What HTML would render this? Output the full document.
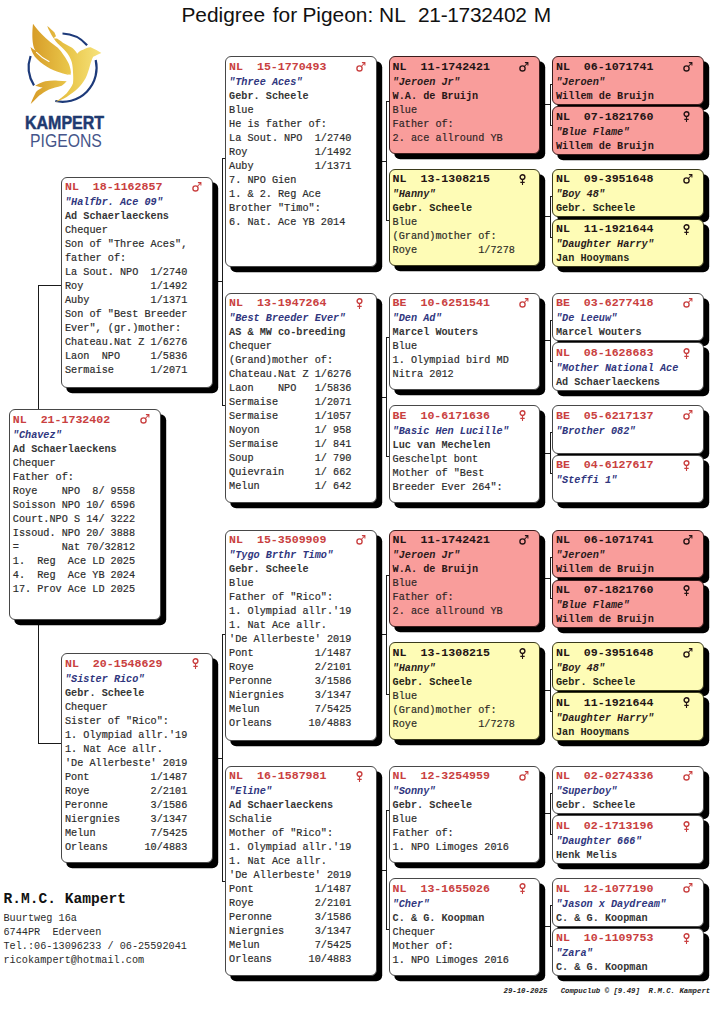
<!DOCTYPE html><html><head><meta charset="utf-8"><style>
html,body{margin:0;padding:0;background:#fff;}
body{width:713px;height:1024px;position:relative;overflow:hidden;font-family:"Liberation Mono",monospace;}
.b{position:absolute;box-sizing:border-box;width:151.5px;border:1px solid #474747;border-radius:6px;box-shadow:5.2px 5.2px 0 #000;background:#fff;padding:1.5px 0 0 2.8px;overflow:hidden;}
.b.p{background:#f99d9b;border-color:#3a1c1c;}
.b.y{background:#fefcb6;border-color:#3a3a1c;}
.hd{height:17px;line-height:16px;font-size:11.6px;font-weight:bold;color:#c94040;white-space:pre;position:relative;}
.p .hd,.y .hd{color:#241414;}
.g{position:absolute;right:9px;top:1.8px;}
.nm{height:14px;line-height:14px;font-size:10.2px;font-weight:bold;font-style:italic;color:#30367e;white-space:pre;}
.p .nm,.y .nm{color:#2a1a1a;}
.p .br,.p .ln{color:#2a1616;}
.y .br,.y .ln{color:#262616;}
.br{height:14px;line-height:14px;font-size:10.2px;font-weight:bold;color:#363636;white-space:pre;}
.ln{height:14px;line-height:14px;font-size:10.2px;color:#1c1c1c;-webkit-text-stroke:0.2px #444;white-space:pre;}
.h,.v{position:absolute;background:#1a1a1a;}
.tt{position:absolute;top:3px;height:24px;line-height:24px;font-family:"Liberation Sans",sans-serif;font-size:20.9px;color:#111;white-space:pre}
.h{height:1px;} .v{width:1px;}
</style></head><body>

<div class="v" style="left:37.5px;top:284.8px;height:459.1px"></div>
<div class="h" style="left:38.0px;top:284.8px;width:23.7px"></div>
<div class="h" style="left:38.0px;top:742.9px;width:23.7px"></div>
<div class="v" style="left:221.9px;top:157.9px;height:248.1px"></div>
<div class="h" style="left:212.0px;top:281.4px;width:10.9px"></div>
<div class="h" style="left:222.4px;top:157.9px;width:3.4px"></div>
<div class="h" style="left:222.4px;top:405.0px;width:3.4px"></div>
<div class="v" style="left:221.9px;top:634.2px;height:247.9px"></div>
<div class="h" style="left:212.0px;top:757.7px;width:10.9px"></div>
<div class="h" style="left:222.4px;top:634.2px;width:3.4px"></div>
<div class="h" style="left:222.4px;top:881.1px;width:3.4px"></div>
<div class="v" style="left:386.0px;top:101.1px;height:120.0px"></div>
<div class="h" style="left:376.0px;top:160.6px;width:11.0px"></div>
<div class="h" style="left:386.5px;top:101.1px;width:2.8px"></div>
<div class="h" style="left:386.5px;top:220.1px;width:2.8px"></div>
<div class="v" style="left:386.0px;top:337.4px;height:120.0px"></div>
<div class="h" style="left:376.0px;top:396.9px;width:11.0px"></div>
<div class="h" style="left:386.5px;top:337.4px;width:2.8px"></div>
<div class="h" style="left:386.5px;top:456.4px;width:2.8px"></div>
<div class="v" style="left:386.0px;top:574.6px;height:120.0px"></div>
<div class="h" style="left:376.0px;top:634.1px;width:11.0px"></div>
<div class="h" style="left:386.5px;top:574.6px;width:2.8px"></div>
<div class="h" style="left:386.5px;top:693.6px;width:2.8px"></div>
<div class="v" style="left:386.0px;top:810.3px;height:120.0px"></div>
<div class="h" style="left:376.0px;top:869.8px;width:11.0px"></div>
<div class="h" style="left:386.5px;top:810.3px;width:2.8px"></div>
<div class="h" style="left:386.5px;top:929.3px;width:2.8px"></div>
<div class="v" style="left:549.7px;top:83.5px;height:42.1px"></div>
<div class="h" style="left:540.0px;top:104.0px;width:10.7px"></div>
<div class="h" style="left:550.2px;top:83.5px;width:2.5px"></div>
<div class="h" style="left:550.2px;top:124.6px;width:2.5px"></div>
<div class="v" style="left:549.7px;top:195.6px;height:42.4px"></div>
<div class="h" style="left:540.0px;top:216.3px;width:10.7px"></div>
<div class="h" style="left:550.2px;top:195.6px;width:2.5px"></div>
<div class="h" style="left:550.2px;top:237.0px;width:2.5px"></div>
<div class="v" style="left:549.7px;top:319.8px;height:42.1px"></div>
<div class="h" style="left:540.0px;top:340.4px;width:10.7px"></div>
<div class="h" style="left:550.2px;top:319.8px;width:2.5px"></div>
<div class="h" style="left:550.2px;top:360.9px;width:2.5px"></div>
<div class="v" style="left:549.7px;top:431.9px;height:42.4px"></div>
<div class="h" style="left:540.0px;top:452.6px;width:10.7px"></div>
<div class="h" style="left:550.2px;top:431.9px;width:2.5px"></div>
<div class="h" style="left:550.2px;top:473.3px;width:2.5px"></div>
<div class="v" style="left:549.7px;top:557.0px;height:42.1px"></div>
<div class="h" style="left:540.0px;top:577.5px;width:10.7px"></div>
<div class="h" style="left:550.2px;top:557.0px;width:2.5px"></div>
<div class="h" style="left:550.2px;top:598.1px;width:2.5px"></div>
<div class="v" style="left:549.7px;top:669.1px;height:42.4px"></div>
<div class="h" style="left:540.0px;top:689.8px;width:10.7px"></div>
<div class="h" style="left:550.2px;top:669.1px;width:2.5px"></div>
<div class="h" style="left:550.2px;top:710.5px;width:2.5px"></div>
<div class="v" style="left:549.7px;top:792.7px;height:42.1px"></div>
<div class="h" style="left:540.0px;top:813.2px;width:10.7px"></div>
<div class="h" style="left:550.2px;top:792.7px;width:2.5px"></div>
<div class="h" style="left:550.2px;top:833.8px;width:2.5px"></div>
<div class="v" style="left:549.7px;top:904.8px;height:42.4px"></div>
<div class="h" style="left:540.0px;top:925.5px;width:10.7px"></div>
<div class="h" style="left:550.2px;top:904.8px;width:2.5px"></div>
<div class="h" style="left:550.2px;top:946.2px;width:2.5px"></div>
<div class="b" style="left:9.0px;top:409.1px;height:211.2px"><div class="hd">NL&nbsp;&nbsp;21-1732402<svg class="g" width="11" height="12" viewBox="0 0 11 12"><circle cx="3.5" cy="7.4" r="2.6" fill="none" stroke="currentColor" stroke-width="1.35"/><path d="M5.3 5.5 L8.6 2.0 M5.9 1.6 L8.9 1.6 L8.9 4.6" fill="none" stroke="currentColor" stroke-width="1.05"/></svg></div><div class="nm">&quot;Chavez&quot;</div><div class="br">Ad&nbsp;Schaerlaeckens</div><div class="ln">Chequer</div><div class="ln">Father&nbsp;of:</div><div class="ln">Roye&nbsp;&nbsp;&nbsp;&nbsp;NPO&nbsp;&nbsp;8/&nbsp;9558</div><div class="ln">Soisson&nbsp;NPO&nbsp;10/&nbsp;6596</div><div class="ln">Court.NPO&nbsp;S&nbsp;14/&nbsp;3222</div><div class="ln">Issoud.&nbsp;NPO&nbsp;20/&nbsp;3888</div><div class="ln">=&nbsp;&nbsp;&nbsp;&nbsp;&nbsp;&nbsp;&nbsp;Nat&nbsp;70/32812</div><div class="ln">1.&nbsp;&nbsp;Reg&nbsp;&nbsp;Ace&nbsp;LD&nbsp;2025</div><div class="ln">4.&nbsp;&nbsp;Reg&nbsp;&nbsp;Ace&nbsp;YB&nbsp;2024</div><div class="ln">17.&nbsp;Prov&nbsp;Ace&nbsp;LD&nbsp;2025</div></div>
<div class="b" style="left:61.2px;top:176.6px;height:211.5px"><div class="hd">NL&nbsp;&nbsp;18-1162857<svg class="g" width="11" height="12" viewBox="0 0 11 12"><circle cx="3.5" cy="7.4" r="2.6" fill="none" stroke="currentColor" stroke-width="1.35"/><path d="M5.3 5.5 L8.6 2.0 M5.9 1.6 L8.9 1.6 L8.9 4.6" fill="none" stroke="currentColor" stroke-width="1.05"/></svg></div><div class="nm">&quot;Halfbr.&nbsp;Ace&nbsp;09&quot;</div><div class="br">Ad&nbsp;Schaerlaeckens</div><div class="ln">Chequer</div><div class="ln">Son&nbsp;of&nbsp;&quot;Three&nbsp;Aces&quot;,</div><div class="ln">father&nbsp;of:</div><div class="ln">La&nbsp;Sout.&nbsp;NPO&nbsp;&nbsp;1/2740</div><div class="ln">Roy&nbsp;&nbsp;&nbsp;&nbsp;&nbsp;&nbsp;&nbsp;&nbsp;&nbsp;&nbsp;&nbsp;1/1492</div><div class="ln">Auby&nbsp;&nbsp;&nbsp;&nbsp;&nbsp;&nbsp;&nbsp;&nbsp;&nbsp;&nbsp;1/1371</div><div class="ln">Son&nbsp;of&nbsp;&quot;Best&nbsp;Breeder</div><div class="ln">Ever&quot;,&nbsp;(gr.)mother:</div><div class="ln">Chateau.Nat&nbsp;Z&nbsp;1/6276</div><div class="ln">Laon&nbsp;&nbsp;NPO&nbsp;&nbsp;&nbsp;&nbsp;&nbsp;1/5836</div><div class="ln">Sermaise&nbsp;&nbsp;&nbsp;&nbsp;&nbsp;&nbsp;1/2071</div></div>
<div class="b" style="left:61.2px;top:653.2px;height:210.2px"><div class="hd">NL&nbsp;&nbsp;20-1548629<svg class="g" width="11" height="13" viewBox="0 0 11 13"><circle cx="3.5" cy="4.1" r="2.4" fill="none" stroke="currentColor" stroke-width="1.4"/><path d="M3.5 6.5 L3.5 11.9 M1.3 9.4 L5.7 9.4" fill="none" stroke="currentColor" stroke-width="1.1"/></svg></div><div class="nm">&quot;Sister&nbsp;Rico&quot;</div><div class="br">Gebr.&nbsp;Scheele</div><div class="ln">Chequer</div><div class="ln">Sister&nbsp;of&nbsp;&quot;Rico&quot;:</div><div class="ln">1.&nbsp;Olympiad&nbsp;allr.&#x27;19</div><div class="ln">1.&nbsp;Nat&nbsp;Ace&nbsp;allr.</div><div class="ln">&#x27;De&nbsp;Allerbeste&#x27;&nbsp;2019</div><div class="ln">Pont&nbsp;&nbsp;&nbsp;&nbsp;&nbsp;&nbsp;&nbsp;&nbsp;&nbsp;&nbsp;1/1487</div><div class="ln">Roye&nbsp;&nbsp;&nbsp;&nbsp;&nbsp;&nbsp;&nbsp;&nbsp;&nbsp;&nbsp;2/2101</div><div class="ln">Peronne&nbsp;&nbsp;&nbsp;&nbsp;&nbsp;&nbsp;&nbsp;3/1586</div><div class="ln">Niergnies&nbsp;&nbsp;&nbsp;&nbsp;&nbsp;3/1347</div><div class="ln">Melun&nbsp;&nbsp;&nbsp;&nbsp;&nbsp;&nbsp;&nbsp;&nbsp;&nbsp;7/5425</div><div class="ln">Orleans&nbsp;&nbsp;&nbsp;&nbsp;&nbsp;&nbsp;10/4883</div></div>
<div class="b" style="left:225.3px;top:56.3px;height:210.8px"><div class="hd">NL&nbsp;&nbsp;15-1770493<svg class="g" width="11" height="12" viewBox="0 0 11 12"><circle cx="3.5" cy="7.4" r="2.6" fill="none" stroke="currentColor" stroke-width="1.35"/><path d="M5.3 5.5 L8.6 2.0 M5.9 1.6 L8.9 1.6 L8.9 4.6" fill="none" stroke="currentColor" stroke-width="1.05"/></svg></div><div class="nm">&quot;Three&nbsp;Aces&quot;</div><div class="br">Gebr.&nbsp;Scheele</div><div class="ln">Blue</div><div class="ln">He&nbsp;is&nbsp;father&nbsp;of:</div><div class="ln">La&nbsp;Sout.&nbsp;NPO&nbsp;&nbsp;1/2740</div><div class="ln">Roy&nbsp;&nbsp;&nbsp;&nbsp;&nbsp;&nbsp;&nbsp;&nbsp;&nbsp;&nbsp;&nbsp;1/1492</div><div class="ln">Auby&nbsp;&nbsp;&nbsp;&nbsp;&nbsp;&nbsp;&nbsp;&nbsp;&nbsp;&nbsp;1/1371</div><div class="ln">7.&nbsp;NPO&nbsp;Gien</div><div class="ln">1.&nbsp;&amp;&nbsp;2.&nbsp;Reg&nbsp;Ace</div><div class="ln">Brother&nbsp;&quot;Timo&quot;:</div><div class="ln">6.&nbsp;Nat.&nbsp;Ace&nbsp;YB&nbsp;2014</div></div>
<div class="b" style="left:225.3px;top:292.6px;height:210.8px"><div class="hd">NL&nbsp;&nbsp;13-1947264<svg class="g" width="11" height="13" viewBox="0 0 11 13"><circle cx="3.5" cy="4.1" r="2.4" fill="none" stroke="currentColor" stroke-width="1.4"/><path d="M3.5 6.5 L3.5 11.9 M1.3 9.4 L5.7 9.4" fill="none" stroke="currentColor" stroke-width="1.1"/></svg></div><div class="nm">&quot;Best&nbsp;Breeder&nbsp;Ever&quot;</div><div class="br">AS&nbsp;&amp;&nbsp;MW&nbsp;co-breeding</div><div class="ln">Chequer</div><div class="ln">(Grand)mother&nbsp;of:</div><div class="ln">Chateau.Nat&nbsp;Z&nbsp;1/6276</div><div class="ln">Laon&nbsp;&nbsp;&nbsp;&nbsp;NPO&nbsp;&nbsp;&nbsp;1/5836</div><div class="ln">Sermaise&nbsp;&nbsp;&nbsp;&nbsp;&nbsp;&nbsp;1/2071</div><div class="ln">Sermaise&nbsp;&nbsp;&nbsp;&nbsp;&nbsp;&nbsp;1/1057</div><div class="ln">Noyon&nbsp;&nbsp;&nbsp;&nbsp;&nbsp;&nbsp;&nbsp;&nbsp;&nbsp;1/&nbsp;958</div><div class="ln">Sermaise&nbsp;&nbsp;&nbsp;&nbsp;&nbsp;&nbsp;1/&nbsp;841</div><div class="ln">Soup&nbsp;&nbsp;&nbsp;&nbsp;&nbsp;&nbsp;&nbsp;&nbsp;&nbsp;&nbsp;1/&nbsp;790</div><div class="ln">Quievrain&nbsp;&nbsp;&nbsp;&nbsp;&nbsp;1/&nbsp;662</div><div class="ln">Melun&nbsp;&nbsp;&nbsp;&nbsp;&nbsp;&nbsp;&nbsp;&nbsp;&nbsp;1/&nbsp;642</div></div>
<div class="b" style="left:225.3px;top:529.8px;height:210.8px"><div class="hd">NL&nbsp;&nbsp;15-3509909<svg class="g" width="11" height="12" viewBox="0 0 11 12"><circle cx="3.5" cy="7.4" r="2.6" fill="none" stroke="currentColor" stroke-width="1.35"/><path d="M5.3 5.5 L8.6 2.0 M5.9 1.6 L8.9 1.6 L8.9 4.6" fill="none" stroke="currentColor" stroke-width="1.05"/></svg></div><div class="nm">&quot;Tygo&nbsp;Brthr&nbsp;Timo&quot;</div><div class="br">Gebr.&nbsp;Scheele</div><div class="ln">Blue</div><div class="ln">Father&nbsp;of&nbsp;&quot;Rico&quot;:</div><div class="ln">1.&nbsp;Olympiad&nbsp;allr.&#x27;19</div><div class="ln">1.&nbsp;Nat&nbsp;Ace&nbsp;allr.</div><div class="ln">&#x27;De&nbsp;Allerbeste&#x27;&nbsp;2019</div><div class="ln">Pont&nbsp;&nbsp;&nbsp;&nbsp;&nbsp;&nbsp;&nbsp;&nbsp;&nbsp;&nbsp;1/1487</div><div class="ln">Roye&nbsp;&nbsp;&nbsp;&nbsp;&nbsp;&nbsp;&nbsp;&nbsp;&nbsp;&nbsp;2/2101</div><div class="ln">Peronne&nbsp;&nbsp;&nbsp;&nbsp;&nbsp;&nbsp;&nbsp;3/1586</div><div class="ln">Niergnies&nbsp;&nbsp;&nbsp;&nbsp;&nbsp;3/1347</div><div class="ln">Melun&nbsp;&nbsp;&nbsp;&nbsp;&nbsp;&nbsp;&nbsp;&nbsp;&nbsp;7/5425</div><div class="ln">Orleans&nbsp;&nbsp;&nbsp;&nbsp;&nbsp;&nbsp;10/4883</div></div>
<div class="b" style="left:225.3px;top:765.5px;height:210.8px"><div class="hd">NL&nbsp;&nbsp;16-1587981<svg class="g" width="11" height="13" viewBox="0 0 11 13"><circle cx="3.5" cy="4.1" r="2.4" fill="none" stroke="currentColor" stroke-width="1.4"/><path d="M3.5 6.5 L3.5 11.9 M1.3 9.4 L5.7 9.4" fill="none" stroke="currentColor" stroke-width="1.1"/></svg></div><div class="nm">&quot;Eline&quot;</div><div class="br">Ad&nbsp;Schaerlaeckens</div><div class="ln">Schalie</div><div class="ln">Mother&nbsp;of&nbsp;&quot;Rico&quot;:</div><div class="ln">1.&nbsp;Olympiad&nbsp;allr.&#x27;19</div><div class="ln">1.&nbsp;Nat&nbsp;Ace&nbsp;allr.</div><div class="ln">&#x27;De&nbsp;Allerbeste&#x27;&nbsp;2019</div><div class="ln">Pont&nbsp;&nbsp;&nbsp;&nbsp;&nbsp;&nbsp;&nbsp;&nbsp;&nbsp;&nbsp;1/1487</div><div class="ln">Roye&nbsp;&nbsp;&nbsp;&nbsp;&nbsp;&nbsp;&nbsp;&nbsp;&nbsp;&nbsp;2/2101</div><div class="ln">Peronne&nbsp;&nbsp;&nbsp;&nbsp;&nbsp;&nbsp;&nbsp;3/1586</div><div class="ln">Niergnies&nbsp;&nbsp;&nbsp;&nbsp;&nbsp;3/1347</div><div class="ln">Melun&nbsp;&nbsp;&nbsp;&nbsp;&nbsp;&nbsp;&nbsp;&nbsp;&nbsp;7/5425</div><div class="ln">Orleans&nbsp;&nbsp;&nbsp;&nbsp;&nbsp;&nbsp;10/4883</div></div>
<div class="b p" style="left:388.8px;top:56.3px;height:97.6px"><div class="hd">NL&nbsp;&nbsp;11-1742421<svg class="g" width="11" height="12" viewBox="0 0 11 12"><circle cx="3.5" cy="7.4" r="2.6" fill="none" stroke="currentColor" stroke-width="1.35"/><path d="M5.3 5.5 L8.6 2.0 M5.9 1.6 L8.9 1.6 L8.9 4.6" fill="none" stroke="currentColor" stroke-width="1.05"/></svg></div><div class="nm">&quot;Jeroen&nbsp;Jr&quot;</div><div class="br">W.A.&nbsp;de&nbsp;Bruijn</div><div class="ln">Blue</div><div class="ln">Father&nbsp;of:</div><div class="ln">2.&nbsp;ace&nbsp;allround&nbsp;YB</div></div>
<div class="b y" style="left:388.8px;top:168.8px;height:97.6px"><div class="hd">NL&nbsp;&nbsp;13-1308215<svg class="g" width="11" height="13" viewBox="0 0 11 13"><circle cx="3.5" cy="4.1" r="2.4" fill="none" stroke="currentColor" stroke-width="1.4"/><path d="M3.5 6.5 L3.5 11.9 M1.3 9.4 L5.7 9.4" fill="none" stroke="currentColor" stroke-width="1.1"/></svg></div><div class="nm">&quot;Hanny&quot;</div><div class="br">Gebr.&nbsp;Scheele</div><div class="ln">Blue</div><div class="ln">(Grand)mother&nbsp;of:</div><div class="ln">Roye&nbsp;&nbsp;&nbsp;&nbsp;&nbsp;&nbsp;&nbsp;&nbsp;&nbsp;&nbsp;1/7278</div></div>
<div class="b" style="left:388.8px;top:292.6px;height:97.6px"><div class="hd">BE&nbsp;&nbsp;10-6251541<svg class="g" width="11" height="12" viewBox="0 0 11 12"><circle cx="3.5" cy="7.4" r="2.6" fill="none" stroke="currentColor" stroke-width="1.35"/><path d="M5.3 5.5 L8.6 2.0 M5.9 1.6 L8.9 1.6 L8.9 4.6" fill="none" stroke="currentColor" stroke-width="1.05"/></svg></div><div class="nm">&quot;Den&nbsp;Ad&quot;</div><div class="br">Marcel&nbsp;Wouters</div><div class="ln">Blue</div><div class="ln">1.&nbsp;Olympiad&nbsp;bird&nbsp;MD</div><div class="ln">Nitra&nbsp;2012</div></div>
<div class="b" style="left:388.8px;top:405.1px;height:97.6px"><div class="hd">BE&nbsp;&nbsp;10-6171636<svg class="g" width="11" height="13" viewBox="0 0 11 13"><circle cx="3.5" cy="4.1" r="2.4" fill="none" stroke="currentColor" stroke-width="1.4"/><path d="M3.5 6.5 L3.5 11.9 M1.3 9.4 L5.7 9.4" fill="none" stroke="currentColor" stroke-width="1.1"/></svg></div><div class="nm">&quot;Basic&nbsp;Hen&nbsp;Lucille&quot;</div><div class="br">Luc&nbsp;van&nbsp;Mechelen</div><div class="ln">Geschelpt&nbsp;bont</div><div class="ln">Mother&nbsp;of&nbsp;&quot;Best</div><div class="ln">Breeder&nbsp;Ever&nbsp;264&quot;:</div></div>
<div class="b p" style="left:388.8px;top:529.8px;height:97.6px"><div class="hd">NL&nbsp;&nbsp;11-1742421<svg class="g" width="11" height="12" viewBox="0 0 11 12"><circle cx="3.5" cy="7.4" r="2.6" fill="none" stroke="currentColor" stroke-width="1.35"/><path d="M5.3 5.5 L8.6 2.0 M5.9 1.6 L8.9 1.6 L8.9 4.6" fill="none" stroke="currentColor" stroke-width="1.05"/></svg></div><div class="nm">&quot;Jeroen&nbsp;Jr&quot;</div><div class="br">W.A.&nbsp;de&nbsp;Bruijn</div><div class="ln">Blue</div><div class="ln">Father&nbsp;of:</div><div class="ln">2.&nbsp;ace&nbsp;allround&nbsp;YB</div></div>
<div class="b y" style="left:388.8px;top:642.3px;height:97.6px"><div class="hd">NL&nbsp;&nbsp;13-1308215<svg class="g" width="11" height="13" viewBox="0 0 11 13"><circle cx="3.5" cy="4.1" r="2.4" fill="none" stroke="currentColor" stroke-width="1.4"/><path d="M3.5 6.5 L3.5 11.9 M1.3 9.4 L5.7 9.4" fill="none" stroke="currentColor" stroke-width="1.1"/></svg></div><div class="nm">&quot;Hanny&quot;</div><div class="br">Gebr.&nbsp;Scheele</div><div class="ln">Blue</div><div class="ln">(Grand)mother&nbsp;of:</div><div class="ln">Roye&nbsp;&nbsp;&nbsp;&nbsp;&nbsp;&nbsp;&nbsp;&nbsp;&nbsp;&nbsp;1/7278</div></div>
<div class="b" style="left:388.8px;top:765.5px;height:97.6px"><div class="hd">NL&nbsp;&nbsp;12-3254959<svg class="g" width="11" height="12" viewBox="0 0 11 12"><circle cx="3.5" cy="7.4" r="2.6" fill="none" stroke="currentColor" stroke-width="1.35"/><path d="M5.3 5.5 L8.6 2.0 M5.9 1.6 L8.9 1.6 L8.9 4.6" fill="none" stroke="currentColor" stroke-width="1.05"/></svg></div><div class="nm">&quot;Sonny&quot;</div><div class="br">Gebr.&nbsp;Scheele</div><div class="ln">Blue</div><div class="ln">Father&nbsp;of:</div><div class="ln">1.&nbsp;NPO&nbsp;Limoges&nbsp;2016</div></div>
<div class="b" style="left:388.8px;top:878.0px;height:97.6px"><div class="hd">NL&nbsp;&nbsp;13-1655026<svg class="g" width="11" height="13" viewBox="0 0 11 13"><circle cx="3.5" cy="4.1" r="2.4" fill="none" stroke="currentColor" stroke-width="1.4"/><path d="M3.5 6.5 L3.5 11.9 M1.3 9.4 L5.7 9.4" fill="none" stroke="currentColor" stroke-width="1.1"/></svg></div><div class="nm">&quot;Cher&quot;</div><div class="br">C.&nbsp;&amp;&nbsp;G.&nbsp;Koopman</div><div class="ln">Chequer</div><div class="ln">Mother&nbsp;of:</div><div class="ln">1.&nbsp;NPO&nbsp;Limoges&nbsp;2016</div></div>
<div class="b p" style="left:552.2px;top:56.3px;height:48.6px"><div class="hd">NL&nbsp;&nbsp;06-1071741<svg class="g" width="11" height="12" viewBox="0 0 11 12"><circle cx="3.5" cy="7.4" r="2.6" fill="none" stroke="currentColor" stroke-width="1.35"/><path d="M5.3 5.5 L8.6 2.0 M5.9 1.6 L8.9 1.6 L8.9 4.6" fill="none" stroke="currentColor" stroke-width="1.05"/></svg></div><div class="nm">&quot;Jeroen&quot;</div><div class="br">Willem&nbsp;de&nbsp;Bruijn</div></div>
<div class="b p" style="left:552.2px;top:106.1px;height:48.6px"><div class="hd">NL&nbsp;&nbsp;07-1821760<svg class="g" width="11" height="13" viewBox="0 0 11 13"><circle cx="3.5" cy="4.1" r="2.4" fill="none" stroke="currentColor" stroke-width="1.4"/><path d="M3.5 6.5 L3.5 11.9 M1.3 9.4 L5.7 9.4" fill="none" stroke="currentColor" stroke-width="1.1"/></svg></div><div class="nm">&quot;Blue&nbsp;Flame&quot;</div><div class="br">Willem&nbsp;de&nbsp;Bruijn</div></div>
<div class="b y" style="left:552.2px;top:168.8px;height:48.6px"><div class="hd">NL&nbsp;&nbsp;09-3951648<svg class="g" width="11" height="12" viewBox="0 0 11 12"><circle cx="3.5" cy="7.4" r="2.6" fill="none" stroke="currentColor" stroke-width="1.35"/><path d="M5.3 5.5 L8.6 2.0 M5.9 1.6 L8.9 1.6 L8.9 4.6" fill="none" stroke="currentColor" stroke-width="1.05"/></svg></div><div class="nm">&quot;Boy&nbsp;48&quot;</div><div class="br">Gebr.&nbsp;Scheele</div></div>
<div class="b y" style="left:552.2px;top:218.5px;height:48.6px"><div class="hd">NL&nbsp;&nbsp;11-1921644<svg class="g" width="11" height="13" viewBox="0 0 11 13"><circle cx="3.5" cy="4.1" r="2.4" fill="none" stroke="currentColor" stroke-width="1.4"/><path d="M3.5 6.5 L3.5 11.9 M1.3 9.4 L5.7 9.4" fill="none" stroke="currentColor" stroke-width="1.1"/></svg></div><div class="nm">&quot;Daughter&nbsp;Harry&quot;</div><div class="br">Jan&nbsp;Hooymans</div></div>
<div class="b" style="left:552.2px;top:292.6px;height:48.6px"><div class="hd">BE&nbsp;&nbsp;03-6277418<svg class="g" width="11" height="12" viewBox="0 0 11 12"><circle cx="3.5" cy="7.4" r="2.6" fill="none" stroke="currentColor" stroke-width="1.35"/><path d="M5.3 5.5 L8.6 2.0 M5.9 1.6 L8.9 1.6 L8.9 4.6" fill="none" stroke="currentColor" stroke-width="1.05"/></svg></div><div class="nm">&quot;De&nbsp;Leeuw&quot;</div><div class="br">Marcel&nbsp;Wouters</div></div>
<div class="b" style="left:552.2px;top:342.4px;height:48.6px"><div class="hd">NL&nbsp;&nbsp;08-1628683<svg class="g" width="11" height="13" viewBox="0 0 11 13"><circle cx="3.5" cy="4.1" r="2.4" fill="none" stroke="currentColor" stroke-width="1.4"/><path d="M3.5 6.5 L3.5 11.9 M1.3 9.4 L5.7 9.4" fill="none" stroke="currentColor" stroke-width="1.1"/></svg></div><div class="nm">&quot;Mother&nbsp;National&nbsp;Ace</div><div class="br">Ad&nbsp;Schaerlaeckens</div></div>
<div class="b" style="left:552.2px;top:405.1px;height:48.6px"><div class="hd">BE&nbsp;&nbsp;05-6217137<svg class="g" width="11" height="12" viewBox="0 0 11 12"><circle cx="3.5" cy="7.4" r="2.6" fill="none" stroke="currentColor" stroke-width="1.35"/><path d="M5.3 5.5 L8.6 2.0 M5.9 1.6 L8.9 1.6 L8.9 4.6" fill="none" stroke="currentColor" stroke-width="1.05"/></svg></div><div class="nm">&quot;Brother&nbsp;082&quot;</div></div>
<div class="b" style="left:552.2px;top:454.8px;height:48.6px"><div class="hd">BE&nbsp;&nbsp;04-6127617<svg class="g" width="11" height="13" viewBox="0 0 11 13"><circle cx="3.5" cy="4.1" r="2.4" fill="none" stroke="currentColor" stroke-width="1.4"/><path d="M3.5 6.5 L3.5 11.9 M1.3 9.4 L5.7 9.4" fill="none" stroke="currentColor" stroke-width="1.1"/></svg></div><div class="nm">&quot;Steffi&nbsp;1&quot;</div></div>
<div class="b p" style="left:552.2px;top:529.8px;height:48.6px"><div class="hd">NL&nbsp;&nbsp;06-1071741<svg class="g" width="11" height="12" viewBox="0 0 11 12"><circle cx="3.5" cy="7.4" r="2.6" fill="none" stroke="currentColor" stroke-width="1.35"/><path d="M5.3 5.5 L8.6 2.0 M5.9 1.6 L8.9 1.6 L8.9 4.6" fill="none" stroke="currentColor" stroke-width="1.05"/></svg></div><div class="nm">&quot;Jeroen&quot;</div><div class="br">Willem&nbsp;de&nbsp;Bruijn</div></div>
<div class="b p" style="left:552.2px;top:579.6px;height:48.6px"><div class="hd">NL&nbsp;&nbsp;07-1821760<svg class="g" width="11" height="13" viewBox="0 0 11 13"><circle cx="3.5" cy="4.1" r="2.4" fill="none" stroke="currentColor" stroke-width="1.4"/><path d="M3.5 6.5 L3.5 11.9 M1.3 9.4 L5.7 9.4" fill="none" stroke="currentColor" stroke-width="1.1"/></svg></div><div class="nm">&quot;Blue&nbsp;Flame&quot;</div><div class="br">Willem&nbsp;de&nbsp;Bruijn</div></div>
<div class="b y" style="left:552.2px;top:642.3px;height:48.6px"><div class="hd">NL&nbsp;&nbsp;09-3951648<svg class="g" width="11" height="12" viewBox="0 0 11 12"><circle cx="3.5" cy="7.4" r="2.6" fill="none" stroke="currentColor" stroke-width="1.35"/><path d="M5.3 5.5 L8.6 2.0 M5.9 1.6 L8.9 1.6 L8.9 4.6" fill="none" stroke="currentColor" stroke-width="1.05"/></svg></div><div class="nm">&quot;Boy&nbsp;48&quot;</div><div class="br">Gebr.&nbsp;Scheele</div></div>
<div class="b y" style="left:552.2px;top:692.0px;height:48.6px"><div class="hd">NL&nbsp;&nbsp;11-1921644<svg class="g" width="11" height="13" viewBox="0 0 11 13"><circle cx="3.5" cy="4.1" r="2.4" fill="none" stroke="currentColor" stroke-width="1.4"/><path d="M3.5 6.5 L3.5 11.9 M1.3 9.4 L5.7 9.4" fill="none" stroke="currentColor" stroke-width="1.1"/></svg></div><div class="nm">&quot;Daughter&nbsp;Harry&quot;</div><div class="br">Jan&nbsp;Hooymans</div></div>
<div class="b" style="left:552.2px;top:765.5px;height:48.6px"><div class="hd">NL&nbsp;&nbsp;02-0274336<svg class="g" width="11" height="12" viewBox="0 0 11 12"><circle cx="3.5" cy="7.4" r="2.6" fill="none" stroke="currentColor" stroke-width="1.35"/><path d="M5.3 5.5 L8.6 2.0 M5.9 1.6 L8.9 1.6 L8.9 4.6" fill="none" stroke="currentColor" stroke-width="1.05"/></svg></div><div class="nm">&quot;Superboy&quot;</div><div class="br">Gebr.&nbsp;Scheele</div></div>
<div class="b" style="left:552.2px;top:815.3px;height:48.6px"><div class="hd">NL&nbsp;&nbsp;02-1713196<svg class="g" width="11" height="13" viewBox="0 0 11 13"><circle cx="3.5" cy="4.1" r="2.4" fill="none" stroke="currentColor" stroke-width="1.4"/><path d="M3.5 6.5 L3.5 11.9 M1.3 9.4 L5.7 9.4" fill="none" stroke="currentColor" stroke-width="1.1"/></svg></div><div class="nm">&quot;Daughter&nbsp;666&quot;</div><div class="br">Henk&nbsp;Melis</div></div>
<div class="b" style="left:552.2px;top:878.0px;height:48.6px"><div class="hd">NL&nbsp;&nbsp;12-1077190<svg class="g" width="11" height="12" viewBox="0 0 11 12"><circle cx="3.5" cy="7.4" r="2.6" fill="none" stroke="currentColor" stroke-width="1.35"/><path d="M5.3 5.5 L8.6 2.0 M5.9 1.6 L8.9 1.6 L8.9 4.6" fill="none" stroke="currentColor" stroke-width="1.05"/></svg></div><div class="nm">&quot;Jason&nbsp;x&nbsp;Daydream&quot;</div><div class="br">C.&nbsp;&amp;&nbsp;G.&nbsp;Koopman</div></div>
<div class="b" style="left:552.2px;top:927.7px;height:48.6px"><div class="hd">NL&nbsp;&nbsp;10-1109753<svg class="g" width="11" height="13" viewBox="0 0 11 13"><circle cx="3.5" cy="4.1" r="2.4" fill="none" stroke="currentColor" stroke-width="1.4"/><path d="M3.5 6.5 L3.5 11.9 M1.3 9.4 L5.7 9.4" fill="none" stroke="currentColor" stroke-width="1.1"/></svg></div><div class="nm">&quot;Zara&quot;</div><div class="br">C.&nbsp;&amp;&nbsp;G.&nbsp;Koopman</div></div>
<div class="tt" style="left:181.4px;letter-spacing:0px">Pedigree</div>
<div class="tt" style="left:272.8px;letter-spacing:0px">for</div>
<div class="tt" style="left:302.4px;letter-spacing:0px">Pigeon:</div>
<div class="tt" style="left:379.1px;letter-spacing:0px">NL</div>
<div class="tt" style="left:418.0px;letter-spacing:-0.3px">21-1732402</div>
<div class="tt" style="left:533.7px;letter-spacing:0px">M</div>
<div style="position:absolute;left:3.5px;top:890px;height:18px;line-height:18px;font-size:14.6px;font-weight:bold;color:#111;white-space:pre">R.M.C. Kampert</div>
<div style="position:absolute;left:3.5px;top:912.2px;font-size:10.2px;line-height:14.1px;color:#2a2a2a;white-space:pre">Buurtweg 16a
6744PR  Ederveen
Tel.:06-13096233 / 06-25592041
ricokampert@hotmail.com</div>
<div style="position:absolute;left:503.5px;top:987px;height:9px;line-height:9px;font-size:7.33px;font-weight:bold;font-style:italic;color:#222;white-space:pre">29-10-2025   Compuclub &#169; [9.49]  R.M.C. Kampert</div>

<svg style="position:absolute;left:0;top:0" width="120" height="160" viewBox="0 0 120 160">
<defs><linearGradient id="gd" x1="30" y1="0" x2="100" y2="0" gradientUnits="userSpaceOnUse"><stop offset="0" stop-color="#d69a26"/><stop offset="0.55" stop-color="#e9c64a"/><stop offset="1" stop-color="#f6e27a"/></linearGradient></defs>
<path d="M30.6,56 A34,34 0 0 0 34,85.3 M62.5,33.5 A34,34 0 0 1 87.1,45.2 M95.7,60 A34,34 0 0 1 55.3,101" fill="none" stroke="#1d3a7a" stroke-width="2.2"/>
<g fill="url(#gd)">
<path d="M30.5,46.9 C31.5,52 34,56 37,59 C41,63 46,66.5 50.3,68.8 C55,71 59,72.5 63,73.5 L69,75 L60,64 C52,60 44,56 38,52 C34,50 32,48 30.5,46.9 Z"/>
<path d="M33,23.8 C36,28 39,31.5 41.8,34.3 C45,37.5 47.5,40 50.2,41.9 C53,44 55.5,45.8 57.8,47.8 C60,50 62,52.5 63.7,55.3 C66,58.5 67.5,61 68.8,63.8 C70,67 70.7,69.5 70.9,72.2 L70.5,75 C63,72 56,68 50,64.5 C43,60 37,55 34,48 C32,42 32,32 33,23.8 Z"/>
<path d="M47.3,25.9 C50,28 52,30 54.5,32.5 L56,36.3 L53.2,38.6 C55,38.6 56,38.5 57,38.5 C59,40 61,41 62.9,42.7 C66,44.5 69,46 72.1,47.8 C74,49.5 76,51.5 77.2,53.7 C79,51.5 81,50 83.1,49.7 C86,48 88.5,47 90.7,47.2 C95,49 98,51 101.4,52.9 C98,54.5 95.5,55.5 93.2,56.7 C92,59 91,62 90,65.5 C88.5,71 87.5,74 85.7,78.1 C83,83 80.5,86 78,88.2 C74.5,91.5 70,94.5 66.7,97 C62,99.5 59,101 55.4,102 C60,99 64,96 66.7,93.3 C70,89 72,86 73,83.2 C73.5,79 73.2,76 73,72 C72.9,69 72.5,63 70.8,59.5 C69,55 67,52.5 64,49.5 C61,46.5 58,44 55.5,41 C53,38 51,34 49.5,31 C48.5,29 47.8,27.5 47.3,25.9 Z"/>
<path d="M35.2,85.7 C39,83.5 42,82 45.3,81.3 C50,80.5 54,80.5 57.9,80.7 C61,80.8 64,81 66.7,81.3 C65,83 63.5,84.5 61.7,85.7 C57,87 53,88 49,89.5 C45,91.5 42,93.5 39,95.8 C36,99 33,102 30.7,104 C32,100 34,96 36,92 C38,90 40,89 42.7,87.6 C40,87 38,86.5 35.2,85.7 Z"/>
</g>
<path d="M36.5,52.3 C40,56 44,59 49,61.5" fill="none" stroke="#fff" stroke-width="1.1" stroke-linecap="round"/>

</svg>
<div style="position:absolute;left:25.3px;top:111.7px;height:22px;line-height:22px;font-family:'Liberation Sans',sans-serif;font-weight:bold;font-size:18.3px;color:#1f3a70;-webkit-text-stroke:0.5px #1f3a70;transform:scaleX(0.875);transform-origin:0 0;white-space:pre">KAMPERT</div>
<div style="position:absolute;left:29.6px;top:129.7px;height:22px;line-height:22px;font-family:'Liberation Sans',sans-serif;font-size:18.3px;color:#45558a;transform:scaleX(0.862);transform-origin:0 0;white-space:pre">PIGEONS</div>

</body></html>
